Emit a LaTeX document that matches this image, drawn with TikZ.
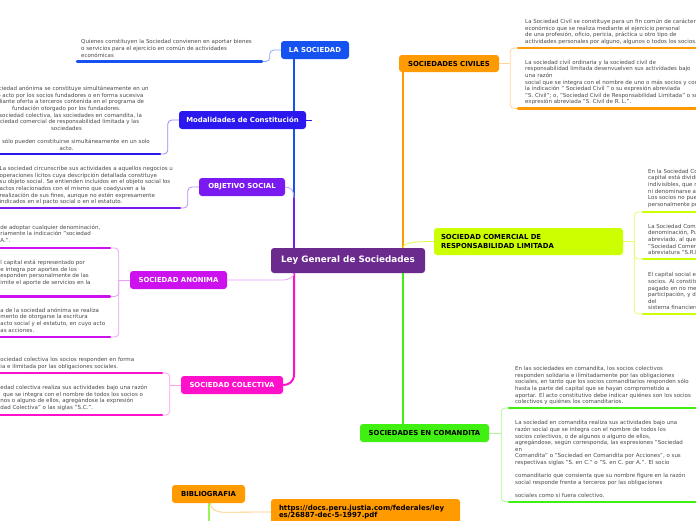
\documentclass[tikz,border=0pt]{standalone}
\usepackage{fontspec}
\setmainfont{DejaVu Sans}
\usetikzlibrary{backgrounds}

\definecolor{leycol}{HTML}{6B2A8E}
\definecolor{lasoccol}{HTML}{1652F0}
\definecolor{modalcol}{HTML}{2A18EE}
\definecolor{objetcol}{HTML}{7A1AF0}
\definecolor{anoncol}{HTML}{CC11EE}
\definecolor{coleccol}{HTML}{FF11CC}
\definecolor{civilcol}{HTML}{FF9A00}
\definecolor{srlcol}{HTML}{CCFF00}
\definecolor{comancol}{HTML}{40F010}
\definecolor{biblinecol}{HTML}{9CF550}
\definecolor{notegray}{HTML}{4A4A4A}

\tikzset{
  topic/.style={rounded corners=3pt, inner sep=0pt, text=white,
    font=\fontsize{6.9}{8.7}\selectfont\bfseries},
  note/.style={anchor=north west, inner sep=0pt, align=left, text=notegray,
    font=\fontsize{5.5}{6.6}\selectfont},
  uline/.style={line width=2.2pt, line cap=round},
  conn/.style={line width=0.8pt, rounded corners=4pt},
  trunk/.style={line width=2pt},
}

\begin{document}
\begin{tikzpicture}[x=1pt,y=-1pt]
  \useasboundingbox (0,0) rectangle (696,520);
  \clip (0,0) rectangle (696,520);

  % centro
  \node[topic, fill=leycol, minimum width=154pt, minimum height=25pt,
    font=\fontsize{8.8}{10}\selectfont\bfseries] (ley) at (348,260.5) {Ley General de Sociedades};
  \coordinate (leyNW) at ([xshift=-54pt]ley.north);
  \coordinate (leySW) at ([xshift=-54pt]ley.south);
  \coordinate (leyNE) at ([xshift=55pt]ley.north);
  \coordinate (leySE) at ([xshift=55pt]ley.south);

  % ramas izquierda
  \node[topic, fill=lasoccol, minimum width=68pt, minimum height=18pt] (lasoc) at (315,50) {LA SOCIEDAD};
  \node[topic, fill=modalcol, minimum width=127pt, minimum height=18pt] (modal) at (242.5,120) {Modalidades de Constitución};
  \node[topic, fill=objetcol, minimum width=86pt, minimum height=18pt] (objet) at (242,187) {OBJETIVO SOCIAL};
  \node[topic, fill=anoncol, minimum width=97pt, minimum height=18pt] (anon) at (178.5,280) {SOCIEDAD ANONIMA};
  \node[topic, fill=coleccol, minimum width=102pt, minimum height=18pt] (colec) at (232,385) {SOCIEDAD COLECTIVA};

  % ramas derecha
  \node[topic, fill=civilcol, text=black, minimum width=100pt, minimum height=17pt] (civil) at (449,63.5) {SOCIEDADES CIVILES};
  \node[topic, fill=srlcol, text=black, text width=175pt, inner xsep=7pt, align=left,
    minimum height=27pt] (srl) at (528.5,241.5) {SOCIEDAD COMERCIAL DE\\RESPONSABILIDAD LIMITADA};
  \node[topic, fill=comancol, text=black, minimum width=129pt, minimum height=18pt] (coman) at (424.5,433) {SOCIEDADES EN COMANDITA};

  % bibliografia
  \node[topic, fill=civilcol, text=black, minimum width=73pt, minimum height=18pt] (biblio) at (208.5,494) {BIBLIOGRAFIA};
  \node[topic, fill=civilcol, text=black, text width=173pt, inner xsep=8pt, align=left,
    minimum height=26pt, font=\fontsize{7}{7.4}\selectfont\bfseries] (link) at (365.5,512)
    {https://docs.peru.justia.com/federales/ley\\es/26887-dec-5-1997.pdf};

  % textos
  \node[note] (lasocTxt) at (81,39.6) {Quienes constituyen la Sociedad convienen en aportar bienes\\
    o servicios para el ejercicio en común de actividades\\económicas};
  \node[note, anchor=north, align=center] (modalTxt) at (66.5,86) {La sociedad anónima se constituye simultáneamente en un\\
    solo acto por los socios fundadores o en forma sucesiva\\
    mediante oferta a terceros contenida en el programa de\\
    fundación otorgado por los fundadores.\\
    La sociedad colectiva, las sociedades en comandita, la\\
    sociedad comercial de responsabilidad limitada y las\\
    sociedades\\[6.6pt]
    civiles sólo pueden constituirse simultáneamente en un solo\\
    acto.};
  \node[note] (objetTxt) at (-0.5,166.3) {La sociedad circunscribe sus actividades a aquellos negocios u\\
    operaciones lícitos cuya descripción detallada constituye\\
    su objeto social. Se entienden incluidos en el objeto social los\\
    actos relacionados con el mismo que coadyuven a la\\
    realización de sus fines, aunque no estén expresamente\\
    indicados en el pacto social o en el estatuto.};
  \node[note] (anonTxtA) at (0.3,224.6) {de adoptar cualquier denominación,\\
    riamente la indicación "sociedad\\A.".};
  \node[note] (anonTxtB) at (0.3,260) {l capital está representado por\\
    e integra por aportes de los\\esponden personalmente de las\\imite el aporte de servicios en la};
  \node[note] (anonTxtC) at (0.3,307.6) {a de la sociedad anónima se realiza\\
    mento de otorgarse la escritura\\acto social y el estatuto, en cuyo acto\\as acciones.};
  \node[note] (colecTxtA) at (0.3,357.3) {ociedad colectiva los socios responden en forma\\
    ia e ilimitada por las obligaciones sociales.};
  \node[note] (colecTxtB) at (0.3,385) {edad colectiva realiza sus actividades bajo una razón\\
    \hspace*{2.5pt}que se integra con el nombre de todos los socios o\\
    nos o alguno de ellos, agregándose la expresión\\dad Colectiva" o las siglas "S.C.".};

  \node[note] (civilTxtA) at (525,19) {La Sociedad Civil se constituye para un fin común de carácter\\
    económico que se realiza mediante el ejercicio personal\\
    de una profesión, oficio, pericia, práctica u otro tipo de\\
    actividades personales por alguno, algunos o todos los socios.};
  \node[note] (civilTxtB) at (525,60) {La sociedad civil ordinaria y la sociedad civil de\\
    responsabilidad limitada desenvuelven sus actividades bajo\\
    una razón\\
    social que se integra con el nombre de uno o más socios y con\\
    la indicación " Sociedad Civil " o su expresión abreviada\\
    "S. Civil"; o, "Sociedad Civil de Responsabilidad Limitada" o su\\
    expresión abreviada "S. Civil de R. L.".};
  \node[note] (srlTxtA) at (648,169) {En la Sociedad Comercial de Responsabilidad Limitada el\\
    capital está dividido en participaciones iguales, acumulables e\\
    indivisibles, que no pueden ser incorporadas en títulos valores,\\
    ni denominarse acciones.\\
    Los socios no pueden exceder de veinte y no responden\\
    personalmente por las obligaciones sociales.};
  \node[note] (srlTxtB) at (648,224) {La Sociedad Comercial de Responsabilidad Limitada tiene una\\
    denominación, Pudiendo utilizar también un nombre\\
    abreviado, al que en todo caso debe añadir la indicación\\
    "Sociedad Comercial de Responsabilidad Limitada" o su\\
    abreviatura "S.R.L.".};
  \node[note] (srlTxtC) at (648,272.3) {El capital social está integrado por las aportaciones de los\\
    socios. Al constituirse la sociedad, el capital debe estar\\
    pagado en no menos del veinticinco por ciento de cada\\
    participación, y depositado en entidad bancaria o financiera\\
    del\\
    sistema financiero nacional a nombre de la sociedad.};
  \node[note] (comanTxtA) at (515,366.3) {En las sociedades en comandita, los socios colectivos\\
    responden solidaria e ilimitadamente por las obligaciones\\
    sociales, en tanto que los socios comanditarios responden sólo\\
    hasta la parte del capital que se hayan comprometido a\\
    aportar. El acto constitutivo debe indicar quiénes son los socios\\
    colectivos y quiénes los comanditarios.};
  \node[note] (comanTxtB) at (515,420.6) {La sociedad en comandita realiza sus actividades bajo una\\
    razón social que se integra con el nombre de todos los\\
    socios colectivos, o de algunos o alguno de ellos,\\
    agregándose, según corresponda, las expresiones "Sociedad\\
    en\\
    Comandita" o "Sociedad en Comandita por Acciones", o sus\\
    respectivas siglas "S. en C." o "S. en C. por A.". El socio\\[6.6pt]
    comanditario que consienta que su nombre figure en la razón\\
    social responde frente a terceros por las obligaciones\\[6.6pt]
    sociales como si fuera colectivo.};

  % subrayados
  \draw[uline, lasoccol] (77,61.5) -- (262,61.5) coordinate (lasocU);
  \draw[uline, modalcol] (-5,154) -- (160,154) coordinate (modalU);
  \draw[uline, objetcol] (-5,208) -- (180,208) coordinate (objetU);
  \draw[uline, anoncol] (-5,248) -- (110,248) coordinate (anonUa);
  \draw[uline, anoncol] (-5,296.5) -- (110,296.5) coordinate (anonUb);
  \draw[uline, anoncol] (-5,337) -- (110,337) coordinate (anonUc);
  \draw[uline, coleccol] (-5,373) -- (162,373) coordinate (colecUa);
  \draw[uline, coleccol] (-5,415) -- (162,415) coordinate (colecUb);
  \draw[uline, civilcol] (700,48) -- (518,48) coordinate (civilUa);
  \draw[uline, civilcol] (700,108.5) -- (518,108.5) coordinate (civilUb);
  \draw[uline, srlcol] (700,212) -- (643,212) coordinate (srlUa);
  \draw[uline, srlcol] (700,259) -- (643,259) coordinate (srlUb);
  \draw[uline, srlcol] (700,314) -- (643,314) coordinate (srlUc);
  \draw[uline, comancol] (700,408) -- (509,408) coordinate (comanUa);
  \draw[uline, comancol] (700,501.7) -- (509,501.7) coordinate (comanUb);

  \begin{scope}[on background layer]
    \fill[white] (0,0) rectangle (696,520);
    % troncos
    \draw[trunk, lasoccol] (leyNW) -- (leyNW |- lasoc.south);
    \draw[trunk, objetcol] (leyNW) -- ++(0,-50) coordinate (objetJ);
    \draw[conn, objetcol!40] (objetJ) .. controls +(0,-7) and +(6,0) .. (objet.east);
    \draw[trunk, coleccol] (leySW) -- ++(0,101) .. controls +(0,8) and +(5,0) .. (colec.east);
    \draw[conn, anoncol!40] (anon.east) -- ++(52,0) .. controls +(9,0) and +(0,4) .. (leySW);
    \draw[trunk, civilcol] (leyNE) -- (leyNE |- civil.south);
    \draw[trunk, comancol] (leySE) -- (leySE |- coman.north);
    \draw[conn, srlcol!70] (leyNE) .. controls +(0,-6) and +(-14,0) .. (srl.west);
    \draw[conn, modalcol] (modal.east) -- ++(6,0);
    % conectores a los textos
    \draw[conn, lasoccol!50] (lasoc.west) -- ++(-11,0) |- (lasocU);
    \draw[conn, modalcol!50] (modal.west) -- ++(-11,0) |- (modalU);
    \draw[conn, objetcol!50] (objet.west) -- ++(-11,0) |- (objetU);
    \draw[conn, anoncol!40] (anon.west) -- ++(-11,0) coordinate (anonB);
    \foreach \u in {anonUa,anonUb,anonUc}
      \draw[conn, anoncol!40] (anonB) |- (\u);
    \draw[conn, coleccol!40] (colec.west) -- ++(-11,0) coordinate (colecB);
    \foreach \u in {colecUa,colecUb}
      \draw[conn, coleccol!40] (colecB) |- (\u);
    \draw[conn, civilcol!40] (civil.east) -- ++(11,0) coordinate (civilB);
    \foreach \u in {civilUa,civilUb}
      \draw[conn, civilcol!40] (civilB) |- (\u);
    \draw[conn, srlcol!60] (srl.east) -- ++(11,0) coordinate (srlB);
    \foreach \u in {srlUa,srlUb,srlUc}
      \draw[conn, srlcol!60] (srlB) |- (\u);
    \draw[conn, comancol!45] (coman.east) -- ++(12,0) coordinate (comanB);
    \foreach \u in {comanUa,comanUb}
      \draw[conn, comancol!45] (comanB) |- (\u);
    % bibliografia
    \draw[trunk, biblinecol] (biblio.south) -- ++(0,22) coordinate (biblioEnd);
    \draw[conn, civilcol!50] ([xshift=2pt]biblio.south) .. controls +(0,7) and +(-8,0) .. ++(16,9) -- (link.west);
  \end{scope}
\end{tikzpicture}
\end{document}
